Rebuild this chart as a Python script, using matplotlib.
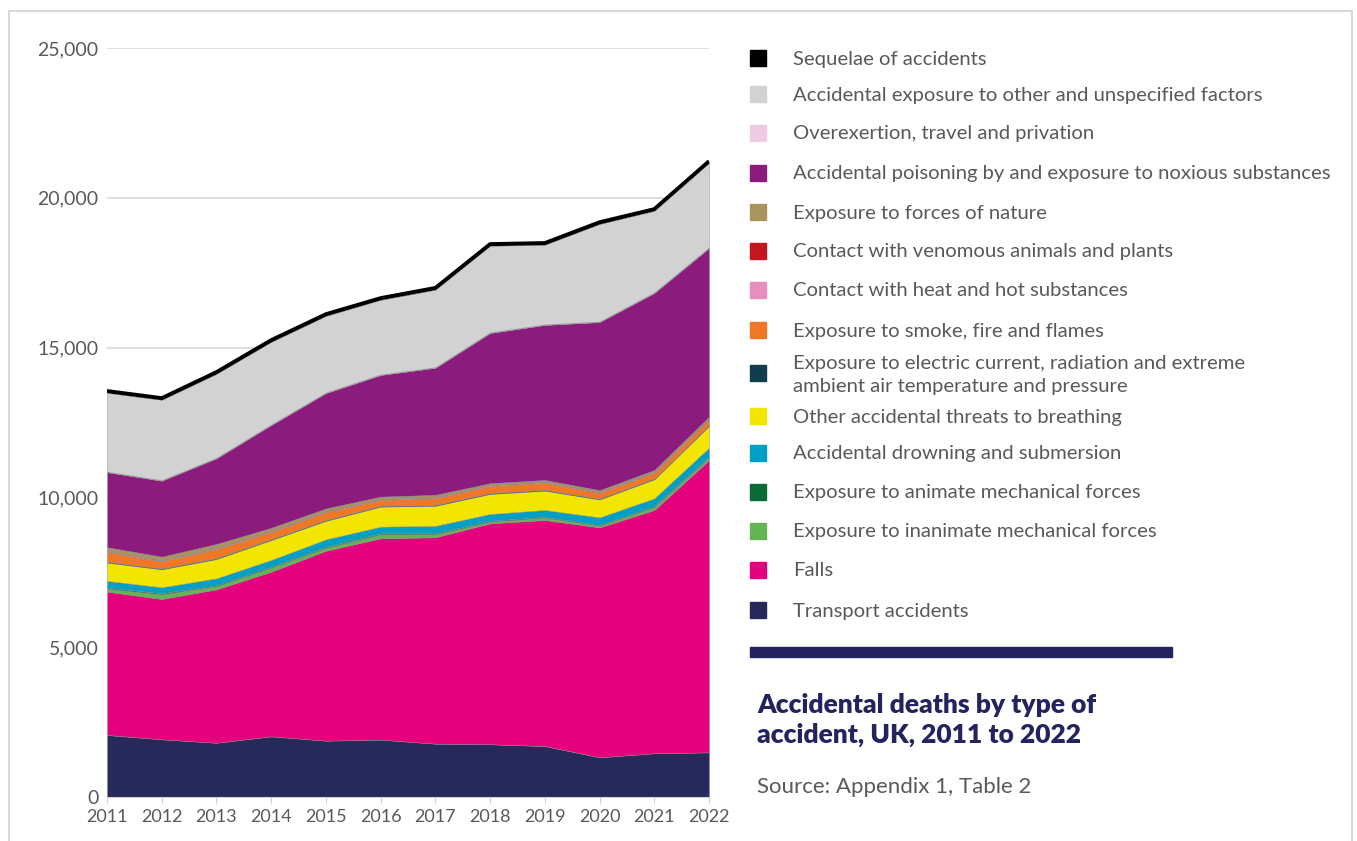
import matplotlib
matplotlib.use("Agg")
import matplotlib.pyplot as plt
from matplotlib.patches import Rectangle
from matplotlib.lines import Line2D
from matplotlib.ticker import FuncFormatter

# Accidental deaths by type of accident, UK
years = [2011, 2012, 2013, 2014, 2015, 2016, 2017, 2018, 2019, 2020, 2021, 2022]

transport = [2070, 1925, 1810, 2025, 1880, 1915, 1780, 1760, 1700, 1325, 1460, 1490]
falls = [4785, 4685, 5120, 5495, 6340, 6720, 6890, 7375, 7545, 7675, 8120, 9755]
inanimate = [100, 155, 110, 135, 100, 135, 100, 55, 80, 50, 100, 80]
animate = [33, 35, 33, 32, 34, 32, 34, 31, 30, 27, 33, 31]
drowning = [225, 200, 225, 225, 245, 220, 245, 225, 225, 255, 255, 300]
breathing = [610, 600, 645, 665, 620, 670, 670, 670, 645, 600, 635, 725]
electric = [30, 28, 30, 30, 30, 28, 30, 30, 30, 28, 30, 30]
smoke = [327, 240, 305, 245, 260, 195, 227, 237, 237, 192, 190, 195]
heat = [30, 30, 30, 30, 28, 28, 28, 28, 28, 28, 28, 28]
venomous = [5, 4, 5, 6, 5, 5, 4, 6, 5, 4, 5, 6]
nature = [122, 120, 132, 98, 90, 78, 78, 56, 57, 58, 57, 53]
poisoning = [2505, 2535, 2860, 3430, 3850, 4060, 4240, 5015, 5175, 5610, 5910, 5630]
overexertion = [22, 20, 21, 19, 22, 20, 21, 23, 20, 19, 22, 21]
other = [2629, 2682, 2800, 2757, 2556, 2490, 2587, 2890, 2657, 3257, 2722, 2822]
sequelae = [62, 58, 60, 61, 59, 60, 62, 58, 60, 61, 59, 60]

# bottom to top
series = [transport, falls, inanimate, animate, drowning, breathing, electric,
          smoke, heat, venomous, nature, poisoning, overexertion, other, sequelae]
labels = ["Transport accidents",
          "Falls",
          "Exposure to inanimate mechanical forces",
          "Exposure to animate mechanical forces",
          "Accidental drowning and submersion",
          "Other accidental threats to breathing",
          "Exposure to electric current, radiation and extreme\nambient air temperature and pressure",
          "Exposure to smoke, fire and flames",
          "Contact with heat and hot substances",
          "Contact with venomous animals and plants",
          "Exposure to forces of nature",
          "Accidental poisoning by and exposure to noxious substances",
          "Overexertion, travel and privation",
          "Accidental exposure to other and unspecified factors",
          "Sequelae of accidents"]
colors = ["#27295a", "#e5007d", "#63b553", "#0b6b35", "#00a0c6", "#f2e500",
          "#103d4f", "#ef7726", "#e88ebf", "#c4161c", "#a9955c", "#8b1c7e",
          "#f0cbe3", "#d2d2d2", "#000000"]

plt.rcParams['font.family'] = ['Lato', 'DejaVu Sans']
grey_text = "#595959"
navy = "#25235f"

W, H = 1357, 841
fig = plt.figure(figsize=(W / 100, H / 100), dpi=100)


def fx(px):
    return px / W


def fy(py):
    return 1 - py / H


# outer frame
for xs, ys in [((9, 1352), (11, 11)), ((9, 9), (11, 841)), ((1352, 1352), (11, 841))]:
    fig.add_artist(Line2D([fx(xs[0]), fx(xs[1])], [fy(ys[0]), fy(ys[1])],
                          transform=fig.transFigure, color="#d9d9d9", lw=1.5))

ax = fig.add_axes([fx(107), fy(797), fx(709) - fx(107), fy(48) - fy(797)])
ax.stackplot(years, *series, colors=colors, linewidth=0.3, edgecolor="#8a8a8a", zorder=2)
total = [sum(v) for v in zip(*series)]
ax.plot(years, total, color="black", lw=2.6, solid_capstyle="butt", zorder=3)

ax.set_xlim(2011, 2022)
ax.set_ylim(0, 25000)
ax.set_yticks(range(0, 25001, 5000))
ax.yaxis.set_major_formatter(FuncFormatter(lambda v, p: f"{int(v):,}"))
ax.set_xticks(years)
ax.grid(axis="y", color="#d9d9d9", lw=1.2, zorder=0)
ax.set_axisbelow(True)
for s in ["top", "right", "left"]:
    ax.spines[s].set_visible(False)
ax.spines["bottom"].set_color("#d0d0d0")
ax.spines["bottom"].set_zorder(4)
ax.tick_params(axis="y", length=0, pad=6, labelsize=14, labelcolor=grey_text)
ax.tick_params(axis="x", length=4, color="#d0d0d0", pad=5, labelsize=13, labelcolor=grey_text)

# legend, top entry first
legend_rows = [59, 95, 134, 174, 213, 252, 291, 331, 375, 417, 454, 493, 532, 571, 611]
for row, (lab, col) in zip(legend_rows, zip(reversed(labels), reversed(colors))):
    sq = row - 2 if "\n" in lab else row - 1
    fig.add_artist(Rectangle((fx(750), fy(sq + 8)), fx(16), fy(0) - fy(16),
                             transform=fig.transFigure, color=col))
    fig.text(fx(793), fy(row), lab, fontsize=14.6, color=grey_text,
             va="center", ha="left", linespacing=1.4)

# title block
fig.add_artist(Rectangle((fx(750), fy(657)), fx(1172) - fx(750), fy(0) - fy(10),
                         transform=fig.transFigure, color=navy))
fig.text(fx(757), fy(720), "Accidental deaths by type of\naccident, UK, 2011 to 2022",
         fontsize=19, fontweight="heavy", color=navy, va="center", ha="left", linespacing=1.3)
fig.text(fx(757), fy(787), "Source: Appendix 1, Table 2", fontsize=16,
         color=grey_text, va="center", ha="left")

fig.savefig("out.png", dpi=100)
